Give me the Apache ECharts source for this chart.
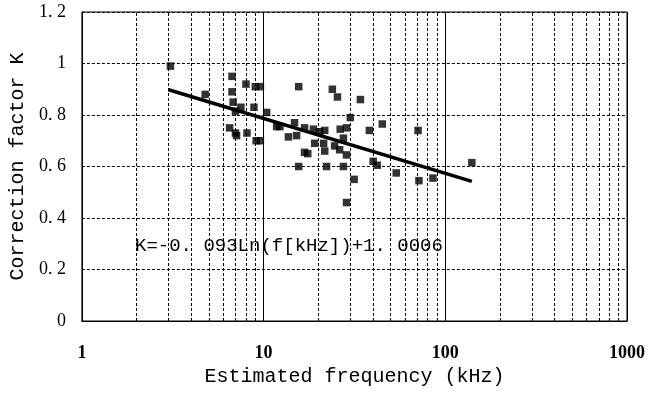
<!DOCTYPE html>
<html>
<head>
<meta charset="utf-8">
<script src="https://cdn.jsdelivr.net/npm/echarts@6/dist/echarts.min.js"></script>
<style>
html,body{margin:0;padding:0;background:#fff;}
#c{width:652px;height:398px;}
</style>
</head>
<body>
<div id="c"></div>
<script>
// Measured data (estimated frequency in kHz, correction factor K)
const freq = [3.07, 4.77, 6.7, 6.7, 6.8, 8.0, 9.0, 9.6, 7.5, 8.85, 7.0, 10.4, 6.5, 7.0, 7.1, 8.1, 9.1, 9.6,
  11.8, 12.3, 14.8, 15.6, 13.7, 15.2, 16.8, 18.8, 19.1, 16.8, 17.5, 15.6, 20.3,
  23.9, 25.5, 34.1, 30.0, 21.7, 26.4, 28.6, 21.4, 21.7, 24.6, 26.2, 27.5, 28.6, 22.2, 27.5,
  31.5, 28.6, 38.2, 45, 40.1, 42.2, 53.7, 70.8, 71.6, 85.5, 140];
const kVal = [0.99, 0.88, 0.95, 0.89, 0.85, 0.92, 0.91, 0.91, 0.83, 0.83, 0.815, 0.81, 0.75, 0.73, 0.72, 0.73, 0.70, 0.70,
  0.755, 0.755, 0.77, 0.91, 0.715, 0.72, 0.75, 0.745, 0.69, 0.655, 0.65, 0.60, 0.735,
  0.90, 0.87, 0.86, 0.79, 0.74, 0.745, 0.75, 0.69, 0.66, 0.68, 0.665, 0.71, 0.645, 0.60, 0.60,
  0.55, 0.46, 0.74, 0.765, 0.62, 0.605, 0.575, 0.74, 0.545, 0.555, 0.615];
// Trend line end points
const trendX = [3, 140];
const trendY = [0.898, 0.542];
// Minor log grid positions
const minorX = [2,3,4,5,6,7,8,9,20,30,40,50,60,70,80,90,200,300,400,500,600,700,800,900];
const xTicks = {1:'1', 10:'10', 100:'100', 1000:'1000'};
const yTicks = {0:'0', 0.2:'0. 2', 0.4:'0. 4', 0.6:'0. 6', 0.8:'0. 8', 1:'1', 1.2:'1. 2'};
const xName = 'Estimated frequency (kHz)';
const yName = 'Correction factor K';
const equation = 'K=-0. 093Ln(f[kHz])+1. 0006';

const chart = echarts.init(document.getElementById('c'), null, {renderer:'canvas'});
const dash = [3, 2];
chart.setOption({
  animation: false,
  backgroundColor: '#fff',
  grid: {left: 79, right: 25, top: 12, bottom: 77, show: true, borderColor: '#000', borderWidth: 1, backgroundColor: 'transparent'},
  xAxis: {
    type: 'log', logBase: 10, min: 1, max: 1000,
    name: xName, nameLocation: 'middle', nameGap: 40,
    nameTextStyle: {fontFamily: 'Liberation Mono', fontSize: 20, color: '#000'},
    axisLine: {show: true, lineStyle: {color: '#000', width: 1}},
    axisTick: {show: false},
    axisLabel: {margin: 23, fontFamily: 'Liberation Serif', fontWeight: 'bold', fontSize: 18, color: '#000',
      formatter: v => xTicks[Math.round(v)] ?? String(Math.round(v))},
    splitLine: {show: true, lineStyle: {color: '#000', width: 1, type: 'solid'}},
    minorTick: {show: false}, minorSplitLine: {show: false}
  },
  yAxis: {
    type: 'value', min: 0, max: 1.2, interval: 0.2,
    name: yName, nameLocation: 'middle', nameGap: 52,
    nameTextStyle: {fontFamily: 'Liberation Mono', fontSize: 20, color: '#000'},
    axisLine: {show: true, lineStyle: {color: '#000', width: 1}},
    axisTick: {show: false},
    axisLabel: {margin: 16, fontFamily: 'Liberation Serif', fontSize: 18, color: '#000',
      formatter: v => yTicks[Math.round(v*10)/10] ?? String(v)},
    splitLine: {show: true, lineStyle: {color: '#000', width: 1, type: dash}}
  },
  graphic: [{
    type: 'text', left: 135, top: 236, z: 100,
    style: {text: equation, fontFamily: 'Liberation Mono', fontSize: 19, fill: '#000'}
  }],
  series: [
    {
      type: 'line', data: [], silent: true,
      markLine: {
        silent: true, symbol: 'none', animation: false,
        label: {show: false},
        lineStyle: {color: '#000', width: 1, type: dash},
        emphasis: {disabled: true},
        data: minorX.map(v => ({xAxis: v}))
      }
    },
    {
      type: 'scatter', symbol: 'rect', symbolSize: 7.5,
      itemStyle: {color: '#000'},
      data: freq.map((f, i) => [f, kVal[i]]), z: 5
    },
    {
      type: 'line', showSymbol: false, symbol: 'none',
      lineStyle: {color: '#000', width: 3.5},
      data: trendX.map((x, i) => [x, trendY[i]]), z: 6
    }
  ]
});
</script>
</body>
</html>
